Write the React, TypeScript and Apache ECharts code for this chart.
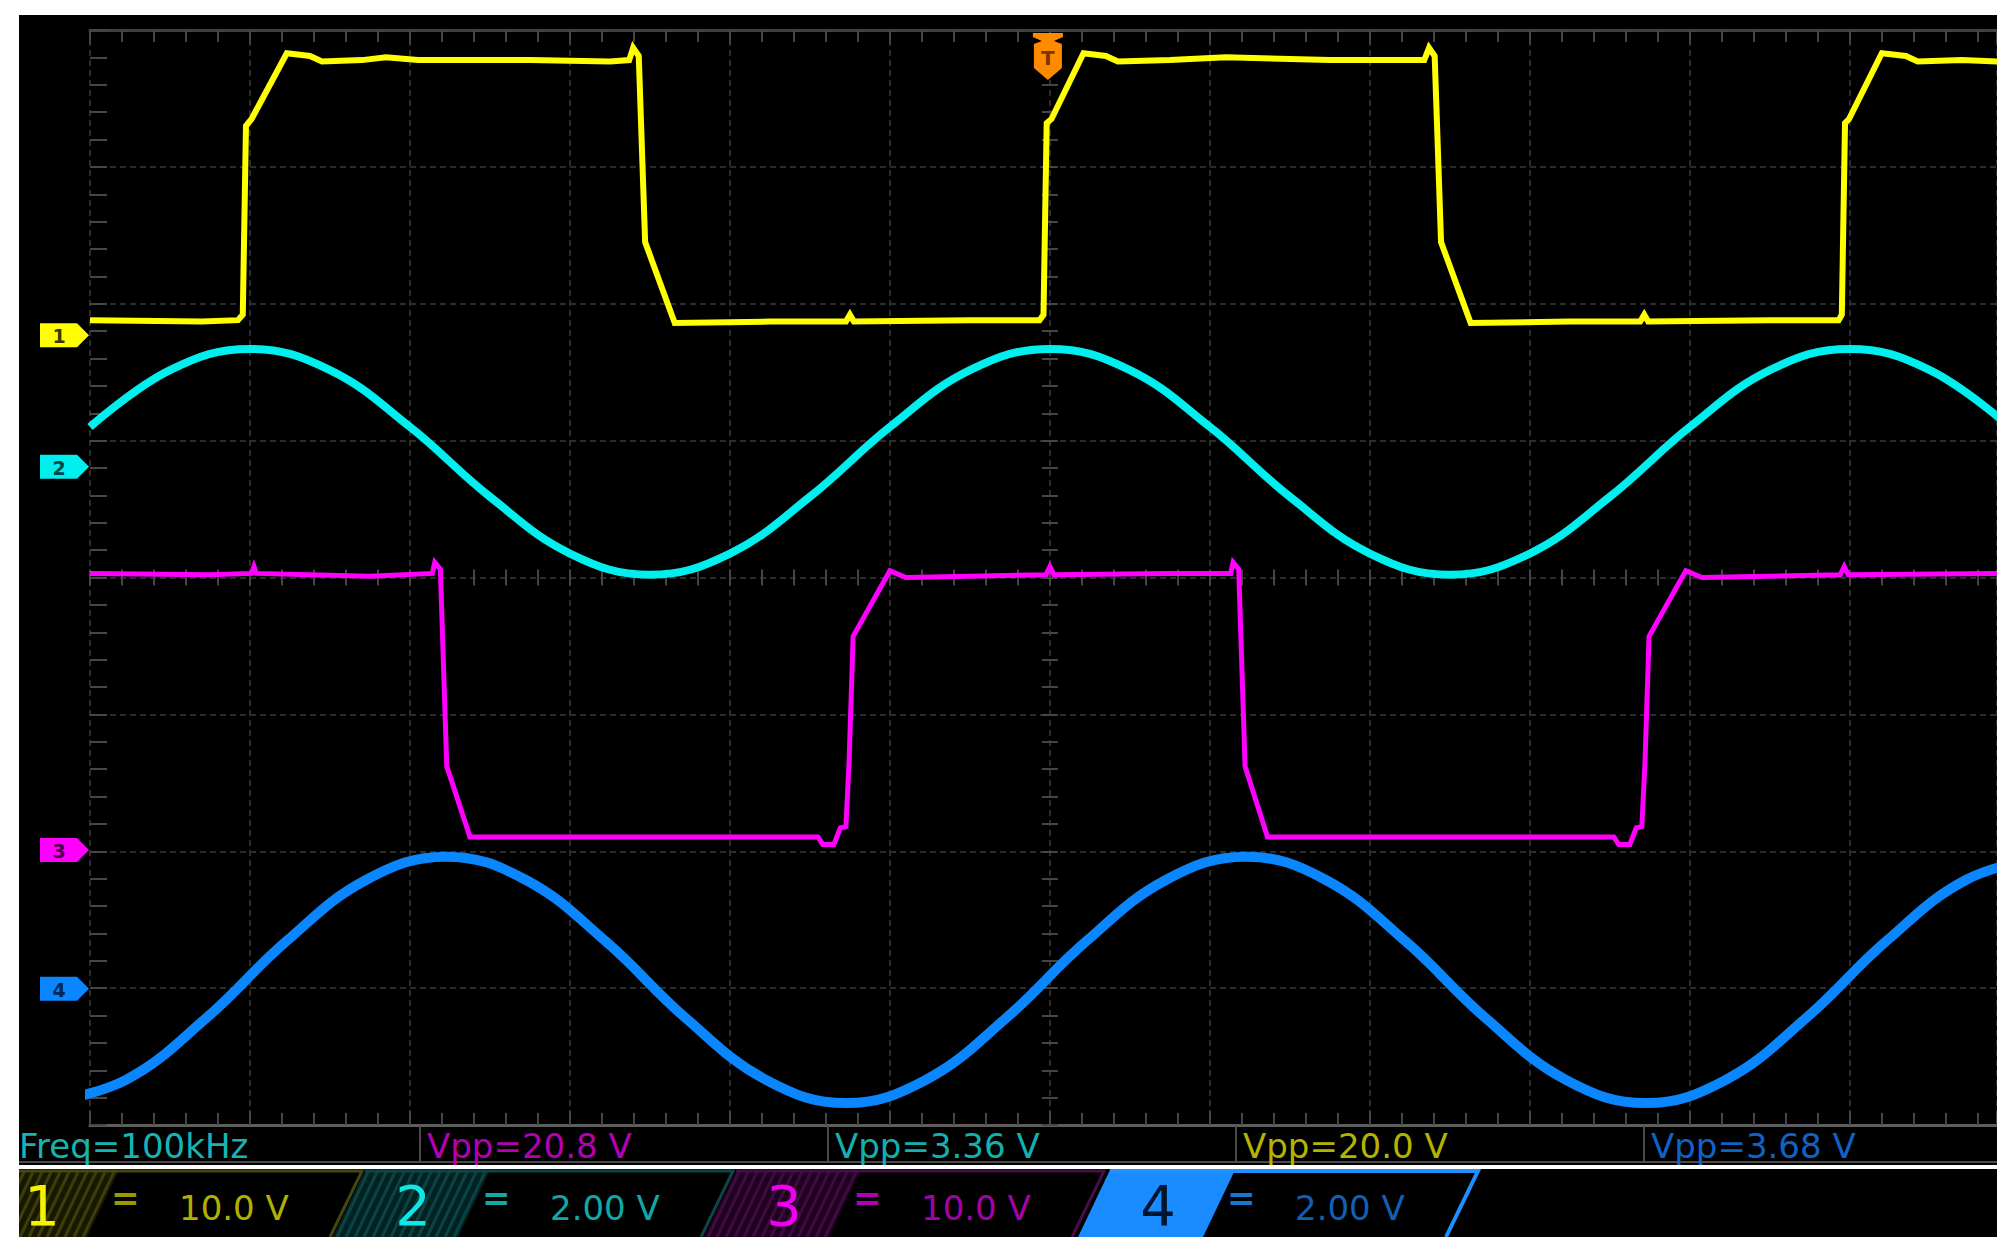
import React, { useEffect, useRef } from "react";
import * as echarts from "echarts";

// ---- time base: µs, 2 µs/div, trigger at t = 0 ----
const TIME_MIN = -12;
const TIME_MAX = 11.84;
const TIME_PER_DIV = 2;

// ---- channels ----
const CHANNELS = ["1", "2", "3", "4"];
const VOLTS_PER_DIV = [10, 2, 10, 2];
const SCALE_TEXT = ["10.0 V", "2.00 V", "10.0 V", "2.00 V"];
const GROUND_DIV = [5.77, 4.81, 2.01, 0.995]; // ground marker, divisions above the bottom edge
const MEASUREMENTS = ["Freq=100kHz", "Vpp=20.8 V", "Vpp=3.36 V", "Vpp=20.0 V", "Vpp=3.68 V"];

// ---- traces: [time µs, volts] ----
const ch1Data = [
  [-12, 1.1], [-10.6, 1.0], [-10.15, 1.1], [-10.09, 1.5], [-10.05, 15.3], [-9.98, 15.8], [-9.54, 20.6],
  [-9.25, 20.4], [-9.1, 20.0], [-8.6, 20.1], [-8.3, 20.3], [-7.9, 20.1], [-6.5, 20.1], [-5.5, 20.0],
  [-5.26, 20.1], [-5.21, 21.0], [-5.14, 20.4], [-5.06, 6.8], [-4.69, 0.9], [-3.5, 1.0],
  [-2.55, 1.0], [-2.5, 1.5], [-2.45, 1.0], [-1.0, 1.1], [-0.13, 1.1], [-0.08, 1.5], [-0.04, 15.5],
  [0.02, 15.8], [0.42, 20.6], [0.7, 20.4], [0.85, 20.0], [1.5, 20.1], [2.2, 20.3], [3.5, 20.1],
  [4.68, 20.1], [4.74, 21.0], [4.81, 20.4], [4.89, 6.8], [5.26, 0.9], [6.5, 1.0],
  [7.38, 1.0], [7.43, 1.5], [7.48, 1.0], [9.0, 1.1], [9.86, 1.1], [9.9, 1.5], [9.94, 15.5],
  [9.99, 15.8], [10.4, 20.6], [10.7, 20.4], [10.85, 20.0], [11.4, 20.1], [11.84, 20.0],
];
const ch2Data = [
  [-12, 0.58], [-11, 1.41], [-10, 1.72], [-9, 1.41], [-8, 0.58], [-7, -0.44], [-6, -1.27], [-5, -1.58],
  [-4, -1.27], [-3, -0.44], [-2, 0.58], [-1, 1.41], [0, 1.72], [1, 1.41], [2, 0.58], [3, -0.44],
  [4, -1.27], [5, -1.58], [6, -1.27], [7, -0.44], [8, 0.58], [9, 1.41], [10, 1.72], [11, 1.41], [12, 0.58],
];
const ch3Data = [
  [-12, 20.2], [-10.5, 20.1], [-9.98, 20.2], [-9.95, 20.7], [-9.92, 20.2], [-8.5, 20.0], [-7.72, 20.2],
  [-7.69, 21.0], [-7.62, 20.5], [-7.54, 6.1], [-7.25, 0.95], [-5.2, 0.95], [-2.9, 0.95],
  [-2.84, 0.4], [-2.7, 0.4], [-2.62, 1.6], [-2.55, 1.7], [-2.51, 6.5], [-2.46, 15.6], [-2.0, 20.4],
  [-1.8, 19.9], [-0.05, 20.1], [0.0, 20.7], [0.05, 20.1], [1.5, 20.2], [2.26, 20.2], [2.29, 21.0],
  [2.36, 20.5], [2.44, 6.1], [2.72, 0.95], [4.8, 0.95], [7.05, 0.95], [7.11, 0.4],
  [7.25, 0.4], [7.33, 1.6], [7.4, 1.7], [7.44, 6.5], [7.49, 15.6], [7.95, 20.4], [8.15, 19.9],
  [9.88, 20.1], [9.93, 20.7], [9.98, 20.1], [11.84, 20.2],
];
const ch4Data = [
  [-12.55, -1.67], [-11.55, -1.33], [-10.55, -0.43], [-9.55, 0.69], [-8.55, 1.59], [-7.55, 1.93],
  [-6.55, 1.59], [-5.55, 0.69], [-4.55, -0.43], [-3.55, -1.33], [-2.55, -1.67], [-1.55, -1.33],
  [-0.55, -0.43], [0.45, 0.69], [1.45, 1.59], [2.45, 1.93], [3.45, 1.59], [4.45, 0.69], [5.45, -0.43],
  [6.45, -1.33], [7.45, -1.67], [8.45, -1.33], [9.45, -0.43], [10.45, 0.69], [11.45, 1.59], [12.45, 1.93],
];

// ---- styles ----
const TRACE_COLORS = ["#ffff00", "#00f0f0", "#ff00ff", "#0a86ff"];
const TRACE_WIDTHS = [6, 8, 5, 10];
const MARKER_TEXT = ["#3a3a00", "#004848", "#4a004a", "#002a55"];
const MEAS_COLORS = ["#18b4b4", "#b400b4", "#14b0b0", "#b4b400", "#0f62c6"];
const NUM_COLORS = ["#f4f400", "#10e6e6", "#f000f0", "#00162c"];
const EQ_COLORS = ["#9a9a00", "#10a8a8", "#b000b0", "#1478d0"];
const VAL_COLORS = ["#b0b000", "#10a8a8", "#a800a8", "#1060b8"];
const HATCH_BASE = ["#181800", "#002222", "#200020", "#1a8cff"];
const HATCH_LINE = ["#3d3d0c", "#0d4242", "#3d0c3d", "#1a8cff"];
const BOX_LINE = ["#46460e", "#0e4646", "#460e46", "#1e90ff"];

const W = 2016;
const H = 1258;
const SCREEN = { x0: 19, y0: 15, x1: 1997, y1: 1237 };
const GRID = { left: 90, top: 30, right: W - 1997, bottom: H - 1125 };
const STATUS_Y = 1146;
const STATUS_SLOTS = [19, 427, 835, 1243, 1651];
const STATUS_DIVIDERS = [420, 828, 1236, 1644];
const BOX_XB = [-38, 333, 704, 1078];
const BOX_W = 368;
const BOX_SLANT = 32;
const HATCH_W = 125;
const BOX_TOP = 1170;
const BOX_BOT = 1237;
const FONT = "DejaVu Sans";

const gridLine = { show: true, lineStyle: { color: "#2c2c2c", width: 2, type: [6, 4] as any } };
const tickStyle = { color: "#464646", width: 2 };

function buildOption(): any {
  const baseX = { type: "value", min: TIME_MIN, max: TIME_MAX, interval: TIME_PER_DIV, axisLabel: { show: false } };
  const baseY = { type: "value", min: -4, max: 4, interval: 1, axisLabel: { show: false } };
  const centerTicks = {
    axisTick: { show: true, inside: false, length: 8, lineStyle: tickStyle },
    minorTick: { show: true, splitNumber: 5, length: 8, lineStyle: tickStyle },
    splitLine: { show: false },
  };
  return {
    animation: false,
    backgroundColor: "#000",
    grid: { ...GRID, outerBoundsMode: "none", containLabel: false },
    tooltip: { show: false },
    xAxis: [
      {
        ...baseX, position: "bottom",
        axisLine: { show: true, onZero: false, lineStyle: { color: "#5e5e5e", width: 3 } },
        axisTick: { show: true, inside: true, length: 14, lineStyle: tickStyle },
        minorTick: { show: true, splitNumber: 5, length: 12, lineStyle: tickStyle },
        splitLine: gridLine,
      },
      {
        ...baseX, position: "top",
        axisLine: { show: true, onZero: false, lineStyle: { color: "#404040", width: 3 } },
        axisTick: { show: true, inside: true, length: 14, lineStyle: tickStyle },
        minorTick: { show: true, splitNumber: 5, length: 12, lineStyle: tickStyle },
        splitLine: { show: false },
      },
      { ...baseX, position: "bottom", axisLine: { show: false, onZero: true, onZeroAxisIndex: 0 }, ...centerTicks },
      { ...baseX, position: "top", axisLine: { show: false, onZero: true, onZeroAxisIndex: 0 }, ...centerTicks },
    ],
    yAxis: [
      {
        ...baseY, position: "left",
        axisLine: { show: false, onZero: false },
        axisTick: { show: true, inside: true, length: 17, lineStyle: tickStyle },
        minorTick: { show: true, splitNumber: 5, length: 17, lineStyle: tickStyle },
        splitLine: gridLine,
      },
      { ...baseY, position: "left", axisLine: { show: false, onZero: true, onZeroAxisIndex: 0 }, ...centerTicks },
      { ...baseY, position: "right", axisLine: { show: false, onZero: true, onZeroAxisIndex: 0 }, ...centerTicks },
      ...GROUND_DIV.map((g, k) => ({
        type: "value",
        show: false,
        min: -g * VOLTS_PER_DIV[k],
        max: (8 - g) * VOLTS_PER_DIV[k],
      })),
    ],
    series: [ch1Data, ch2Data, ch3Data, ch4Data].map((d, k) => ({
      type: "line",
      name: "CH" + CHANNELS[k],
      data: d,
      xAxisIndex: 0,
      yAxisIndex: 3 + k,
      symbol: "none",
      showSymbol: false,
      smooth: k % 2 === 1 ? 0.4 : false,
      silent: true,
      z: 3,
      lineStyle: { color: TRACE_COLORS[k], width: TRACE_WIDTHS[k], join: "miter" },
      emphasis: { disabled: true },
    })),
  };
}

function buildGraphics(chart: any): any[] {
  const els: any[] = [];
  const white = "#ffffff";
  // white page margins around the scope screen
  els.push({ type: "rect", shape: { x: 0, y: 0, width: W, height: SCREEN.y0 }, style: { fill: white }, z: 50 });
  els.push({ type: "rect", shape: { x: 0, y: 0, width: SCREEN.x0, height: H }, style: { fill: white }, z: 50 });
  els.push({ type: "rect", shape: { x: SCREEN.x1, y: 0, width: W - SCREEN.x1, height: H }, style: { fill: white }, z: 50 });
  els.push({ type: "rect", shape: { x: 0, y: SCREEN.y1, width: W, height: H - SCREEN.y1 }, style: { fill: white }, z: 50 });
  els.push({ type: "rect", shape: { x: 0, y: 1165, width: W, height: 4 }, style: { fill: white }, z: 50 });

  // measurement status row
  els.push({ type: "rect", shape: { x: SCREEN.x0, y: 1161, width: SCREEN.x1 - SCREEN.x0, height: 2 }, style: { fill: "#4a4a4a" }, z: 10 });
  STATUS_DIVIDERS.forEach((x) => {
    els.push({ type: "line", shape: { x1: x, y1: 1126, x2: x, y2: 1162 }, style: { stroke: "#4a4a4a", lineWidth: 2 }, z: 10 });
  });
  MEASUREMENTS.forEach((t, i) => {
    els.push({
      type: "text", x: STATUS_SLOTS[i], y: STATUS_Y, z: 12,
      style: { text: t, fill: MEAS_COLORS[i], font: `34px "${FONT}"`, textVerticalAlign: "middle", textAlign: "left" },
    });
  });

  // channel scale boxes
  CHANNELS.forEach((c, k) => {
    const xb = BOX_XB[k];
    els.push({
      type: "polygon", z: 10,
      shape: { points: [[xb, BOX_BOT], [xb + BOX_SLANT, BOX_TOP], [xb + BOX_SLANT + HATCH_W, BOX_TOP], [xb + HATCH_W, BOX_BOT]] },
      style: { fill: HATCH_BASE[k] },
    });
    if (k < 3) {
      for (let x = xb + 4; x < xb + HATCH_W; x += 9) {
        els.push({
          type: "line", z: 11,
          shape: { x1: x, y1: BOX_BOT, x2: x + BOX_SLANT, y2: BOX_TOP },
          style: { stroke: HATCH_LINE[k], lineWidth: 3 },
        });
      }
    }
    els.push({
      type: "polyline", z: 11,
      shape: { points: [[xb + BOX_SLANT, BOX_TOP + 1], [xb + BOX_SLANT + BOX_W, BOX_TOP + 1], [xb + BOX_W, BOX_BOT]] },
      style: { stroke: BOX_LINE[k], lineWidth: k === 3 ? 4 : 3, fill: "none" },
    });
    els.push({
      type: "text", x: xb + 80, y: 1205, z: 12,
      style: { text: c, fill: NUM_COLORS[k], font: `56px "${FONT}"`, textAlign: "center", textVerticalAlign: "middle" },
    });
    els.push({
      type: "text", x: xb + 149, y: 1198, z: 12,
      style: { text: "=", fill: EQ_COLORS[k], font: `bold 34px "${FONT}"`, textAlign: "left", textVerticalAlign: "middle" },
    });
    els.push({
      type: "text", x: xb + 217, y: 1208, z: 12,
      style: { text: SCALE_TEXT[k], fill: VAL_COLORS[k], font: `34px "${FONT}"`, textAlign: "left", textVerticalAlign: "middle" },
    });
  });

  // channel ground markers
  const gridLeft = chart.convertToPixel({ xAxisIndex: 0 }, TIME_MIN);
  CHANNELS.forEach((c, k) => {
    const y = chart.convertToPixel({ yAxisIndex: 3 + k }, 0);
    const xr = gridLeft - 1;
    els.push({
      type: "polygon", z: 20,
      shape: { points: [[xr - 49, y - 12], [xr - 12, y - 12], [xr, y], [xr - 12, y + 12], [xr - 49, y + 12]] },
      style: { fill: TRACE_COLORS[k] },
    });
    els.push({
      type: "text", x: xr - 30, y: y + 1, z: 21,
      style: { text: c, fill: MARKER_TEXT[k], font: `bold 19px "${FONT}"`, textAlign: "center", textVerticalAlign: "middle" },
    });
  });

  // trigger position marker
  const cx = chart.convertToPixel({ xAxisIndex: 0 }, 0) - 2;
  els.push({
    type: "polygon", z: 20,
    shape: {
      points: [[cx - 15, 33], [cx + 15, 33], [cx + 15, 37], [cx + 6, 41], [cx + 14, 44], [cx + 14, 68], [cx, 80],
        [cx - 14, 68], [cx - 14, 44], [cx - 6, 41], [cx - 15, 37]],
    },
    style: { fill: "#ff8a00" },
  });
  els.push({
    type: "text", x: cx, y: 58, z: 21,
    style: { text: "T", fill: "#7a3800", font: `bold 20px "${FONT}"`, textAlign: "center", textVerticalAlign: "middle" },
  });
  return els;
}

export default function App() {
  const ref = useRef<HTMLDivElement>(null);
  useEffect(() => {
    if (!ref.current) return;
    document.body.style.margin = "0";
    const chart = echarts.init(ref.current, null, { renderer: "svg" });
    chart.setOption(buildOption());
    chart.setOption({ graphic: { elements: buildGraphics(chart) } });
    return () => chart.dispose();
  }, []);
  return (
    <div style={{ position: "absolute", left: 0, top: 0, width: W, height: H, background: "#fff" }}>
      <div ref={ref} style={{ width: W, height: H }} />
    </div>
  );
}
